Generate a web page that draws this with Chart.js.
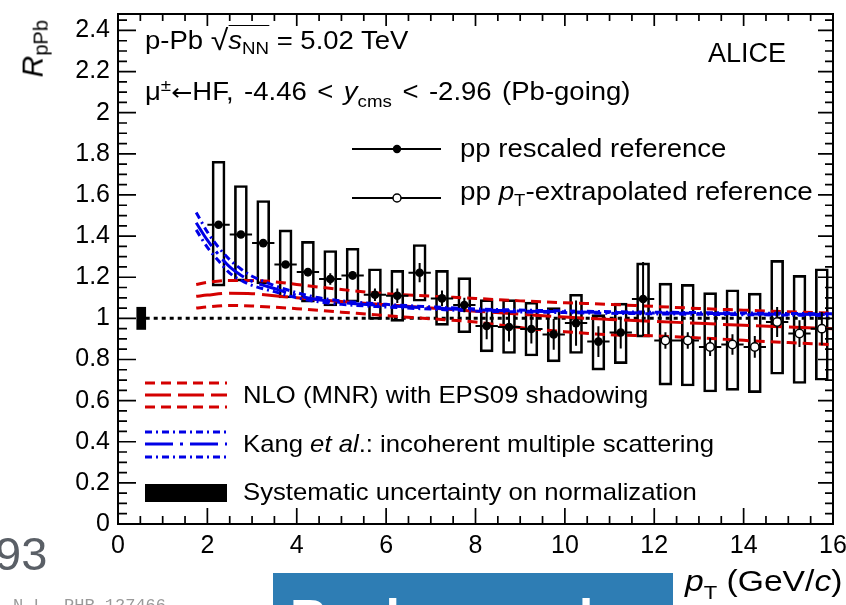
<!DOCTYPE html>
<html><head><meta charset="utf-8">
<script src="https://cdn.jsdelivr.net/npm/chart.js@4.4.1/dist/chart.umd.min.js"></script>
<style>
html,body{margin:0;padding:0;background:#fff;}
#wrap{position:relative;width:846px;height:605px;overflow:hidden;background:#fff;}
canvas{display:block;position:absolute;left:0;top:0;}
.t{position:absolute;line-height:0;height:0;white-space:nowrap;font-family:"Liberation Sans",Arial,sans-serif;color:#000;transform-origin:0 0;}
.sub{position:relative;}
</style>
</head><body><div id="wrap"><canvas id="c" width="846" height="605"></canvas></div>
<script>
// ---------------- data ----------------
const ptBins = [2.25,2.75,3.25,3.75,4.25,4.75,5.25,5.75,6.25,6.75,7.25,7.75,8.25,8.75,9.25,9.75,10.25,10.75,11.25,11.75,12.25,12.75,13.25,13.75,14.25,14.75,15.25,15.75];
const rpPb   = [1.455,1.408,1.366,1.262,1.225,1.191,1.209,1.115,1.110,1.222,1.097,1.065,0.963,0.958,0.948,0.922,0.977,0.887,0.931,1.094,0.892,0.892,0.861,0.873,0.861,0.982,0.926,0.950];
const statErr= [0.015,0.015,0.015,0.015,0.02,0.028,0.02,0.03,0.035,0.047,0.038,0.035,0.065,0.07,0.07,0.075,0.11,0.075,0.077,0.18,0.04,0.04,0.044,0.05,0.053,0.073,0.065,0.081];
const sysHi  = [1.764,1.646,1.573,1.430,1.374,1.330,1.341,1.241,1.233,1.359,1.233,1.198,1.091,1.091,1.079,1.052,1.117,1.018,1.074,1.270,1.171,1.165,1.125,1.139,1.123,1.282,1.209,1.241];
const sysLo  = [1.157,1.181,1.168,1.099,1.079,1.060,1.079,0.995,0.985,1.083,0.966,0.930,0.837,0.829,0.817,0.788,0.829,0.748,0.780,0.909,0.675,0.671,0.642,0.650,0.639,0.728,0.683,0.699];
const nFilled = 20;           // first 20 bins: pp rescaled reference; rest: pT-extrapolated
const binHalfWidth = 0.25;

const normPt = 0.52, normUnc = 0.054, unityFrom = 0.62, unityTo = 16;

const nloPt  = [1.75,2,2.5,3,3.5,4,5,6,7,8,9,10,11,12,13,14,15,16];
const nloUp  = [1.165,1.175,1.184,1.184,1.178,1.165,1.14,1.12,1.108,1.097,1.085,1.076,1.068,1.058,1.048,1.04,1.032,1.025];
const nloCen = [1.107,1.113,1.122,1.12,1.11,1.10,1.082,1.066,1.05,1.035,1.02,1.006,0.995,0.985,0.976,0.966,0.958,0.95];
const nloLo  = [1.05,1.056,1.063,1.06,1.054,1.047,1.03,1.013,0.998,0.982,0.955,0.935,0.92,0.915,0.905,0.893,0.882,0.872];

const kangPt  = [1.75,2.0,2.25,2.5,2.75,3.0,3.5,4,4.5,5,6,7,8,10,12,14,16];
const kangUp  = [1.515,1.42,1.345,1.285,1.24,1.205,1.16,1.125,1.10,1.085,1.068,1.056,1.046,1.036,1.03,1.026,1.022];
const kangCen = [1.465,1.38,1.31,1.25,1.21,1.18,1.145,1.112,1.09,1.077,1.062,1.05,1.041,1.032,1.026,1.022,1.018];
const kangLo  = [1.43,1.345,1.28,1.22,1.185,1.16,1.13,1.10,1.08,1.068,1.055,1.045,1.036,1.028,1.022,1.018,1.014];

const xTickLabels = ['0','2','4','6','8','10','12','14','16'];
const yTickLabels = ['0','0.2','0.4','0.6','0.8','1','1.2','1.4','1.6','1.8','2','2.2','2.4'];

// ---------------- styles ----------------
const FONT = '"Liberation Sans", Arial, sans-serif';
const RED = '#d40000', BLUE = '#0000e6';
const DASH_SHORT = [10,6], DASH_LONG = [26,7], DASH_DOT = [7,4,2,4], DASH_LONGDOT = [28,7,3,7];

const pts = (xs, ys) => xs.map((x,i)=>({x, y: ys[i]}));
const curve = (xs, ys, color, dash, order) => ({
  type:'line', data: pts(xs, ys), borderColor: color, borderWidth: 3, borderDash: dash,
  pointRadius: 0, fill: false, cubicInterpolationMode: 'monotone', order
});

const errSegs = [];
ptBins.forEach((x,i)=>{
  const y = rpPb[i];
  errSegs.push({x:x-binHalfWidth,y},{x:x+binHalfWidth,y},{x,y:null},
               {x,y:y-statErr[i]},{x,y:y+statErr[i]},{x,y:null});
});

const datasets = [
  { type:'bar', data: ptBins.map((x,i)=>({x, y:[sysLo[i], sysHi[i]]})), backgroundColor:'rgba(0,0,0,0)',
    borderColor:'#000', borderWidth:2, borderSkipped:false, barThickness:13, grouped:false, order:10 },
  { type:'bar', data:[{x:normPt, y:[1-normUnc, 1+normUnc]}], backgroundColor:'#000', borderWidth:0,
    barThickness:9, grouped:false, order:9 },
  { type:'line', data:[{x:unityFrom,y:1},{x:unityTo,y:1}], borderColor:'#000', borderWidth:3,
    borderDash:[4,4], pointRadius:0, fill:false, order:8 },
  curve(nloPt, nloUp, RED, DASH_SHORT, 7),
  curve(nloPt, nloLo, RED, DASH_SHORT, 7),
  curve(nloPt, nloCen, RED, DASH_LONG, 7),
  curve(kangPt, kangUp, BLUE, DASH_DOT, 6),
  curve(kangPt, kangLo, BLUE, DASH_DOT, 6),
  curve(kangPt, kangCen, BLUE, DASH_LONGDOT, 6),
  { type:'line', data: errSegs, borderColor:'#000', borderWidth:2, pointRadius:0, spanGaps:false, fill:false, tension:0, order:5 },
  { type:'line', data: pts(ptBins.slice(0,nFilled), rpPb.slice(0,nFilled)), showLine:false, pointRadius:4.3,
    pointBackgroundColor:'#000', pointBorderColor:'#000', pointBorderWidth:0, order:2 },
  { type:'line', data: pts(ptBins.slice(nFilled), rpPb.slice(nFilled)), showLine:false, pointRadius:4.2,
    pointBackgroundColor:'#fff', pointBorderColor:'#000', pointBorderWidth:1.5, order:1 }
];

// ---------------- frame, ROOT-style inner ticks, legend symbols ----------------
const rootFrame = {
  id:'rootFrame',
  afterDraw(chart){
    const {ctx, chartArea:a, scales:{x, y}} = chart;
    ctx.save();
    ctx.strokeStyle = '#000'; ctx.lineWidth = 2; ctx.setLineDash([]);
    ctx.strokeRect(a.left, a.top, a.right-a.left, a.bottom-a.top);
    ctx.lineWidth = 1.7; ctx.beginPath();
    for (let k=0; k<=32; k++){
      const v = k*0.5, px = x.getPixelForValue(v), major = (k%4===0);
      ctx.moveTo(px, a.bottom); ctx.lineTo(px, a.bottom-(major?16:8));
      ctx.moveTo(px, a.top); ctx.lineTo(px, a.top+(major?12:7));
    }
    for (let k=0; k*0.05<=2.48; k++){
      const py = y.getPixelForValue(k*0.05), major = (k%4===0);
      ctx.moveTo(a.left, py); ctx.lineTo(a.left+(major?18:9), py);
      ctx.moveTo(a.right, py); ctx.lineTo(a.right-(major?15:8), py);
    }
    ctx.stroke();

    // legend symbols
    const seg = (x1,x2,yy,color,w,dash)=>{ctx.beginPath();ctx.strokeStyle=color;ctx.lineWidth=w;ctx.setLineDash(dash);ctx.moveTo(x1,yy);ctx.lineTo(x2,yy);ctx.stroke();};
    seg(352,441,149,'#000',2,[]);
    seg(352,441,198,'#000',2,[]);
    ctx.setLineDash([]);
    ctx.beginPath(); ctx.arc(397,149,4.2,0,2*Math.PI); ctx.fillStyle='#000'; ctx.fill();
    ctx.beginPath(); ctx.arc(397,198,4,0,2*Math.PI); ctx.fillStyle='#fff'; ctx.fill(); ctx.lineWidth=1.5; ctx.strokeStyle='#000'; ctx.stroke();
    seg(145,227,383,RED,3,DASH_SHORT);
    seg(145,227,395,RED,3,DASH_LONG);
    seg(145,227,407,RED,3,DASH_SHORT);
    seg(145,227,432,BLUE,3,DASH_DOT);
    seg(145,227,444,BLUE,3,DASH_LONGDOT);
    seg(145,227,457,BLUE,3,DASH_DOT);
    ctx.setLineDash([]);
    ctx.fillStyle='#000'; ctx.fillRect(145,484,82,18);

    // slide decorations below the figure
    ctx.fillStyle='#2e7db4'; ctx.fillRect(273,573,400,40);
    ctx.restore();
  }
};

new Chart(document.getElementById('c'), {
  type:'bar',
  data:{ datasets },
  options:{
    responsive:false, animation:false, devicePixelRatio:1,
    layout:{ padding:{ top:14, right:13, left:0, bottom:0 } },
    plugins:{ legend:{display:false}, tooltip:{enabled:false} },
    scales:{
      x:{ type:'linear', min:0, max:16, offset:false,
          grid:{display:false, drawTicks:false}, border:{display:false},
          ticks:{ stepSize:2, autoSkip:false, maxRotation:0, padding:7, color:'#000',
                  font:{family:FONT, size:25}, callback:(v,i)=>xTickLabels[i] },
          afterFit:s=>{ s.height = 81; s.paddingLeft = 0; s.paddingRight = 0; } },
      y:{ type:'linear', min:0, max:2.48,
          grid:{display:false, drawTicks:false}, border:{display:false},
          ticks:{ stepSize:0.2, includeBounds:false, autoSkip:false, padding:8, color:'#000',
                  font:{family:FONT, size:25}, callback:(v,i)=>yTickLabels[i] },
          afterFit:s=>{ s.width = 118; s.paddingTop = 0; s.paddingBottom = 0; } }
    }
  },
  plugins:[rootFrame]
});

// ---------------- text (real HTML text) ----------------
const wrap = document.getElementById('wrap');
function addText(html, x, baseline, size, sx, extra){
  const d = document.createElement('div');
  d.className = 't';
  d.style.left = x+'px';
  d.style.top = (baseline - 0.3465*size)+'px';
  d.style.fontSize = size+'px';
  d.style.transform = 'scaleX('+(sx||1)+')';
  if (extra) Object.assign(d.style, extra);
  d.innerHTML = html;
  wrap.appendChild(d);
  return d;
}
const sub = (t,size,dy)=>`<span class="sub" style="font-size:${size}px;top:${dy}px">${t}</span>`;

addText(`p-Pb <span style="font-size:29px;position:relative;top:1px">√</span><span style="border-top:1.4px solid #000">${'<i>s</i>'}${sub('NN',17,5)}</span> = 5.02 TeV`, 145, 48, 25, 1.1);
addText(`μ<span style="font-size:17px;position:relative;top:-9px">±</span><span style="font-family:'DejaVu Sans';font-size:23px">←</span>HF, -4.46 &lt; <i>y</i>${sub('cms',17,7)} &lt; -2.96 (Pb-going)`, 145, 100, 25, 1.1, {wordSpacing:'2.6px'});
addText('ALICE', 708, 62, 27, 1);
addText('pp rescaled reference', 460, 157, 25.5, 1.08);
addText(`pp <i>p</i>${sub('T',17,6)}-extrapolated reference`, 460, 200, 25.5, 1.09);
addText('NLO (MNR) with EPS09 shadowing', 243, 403, 24, 1.07);
addText('Kang <i>et al</i>.: incoherent multiple scattering', 243, 452, 24, 1.07);
addText('Systematic uncertainty on normalization', 243, 500, 24, 1.07);
addText(`<i>p</i>${sub('T',19,8)} (GeV/<i>c</i>)`, 685, 591, 29, 1.16);
// y axis title, rotated
addText(`<i>R</i>${sub('pPb',20,5)}`, 43, 77, 30, 1, {transformOrigin:`0 ${0.3465*30}px`, transform:'rotate(-90deg)'});
// slide remnants around the figure
addText('93', -5, 570, 47, 1, {color:'#5a5f66'});
addText('N.L. PHR 127466', 13, 612, 17, 1, {color:'#9a9a9a', fontFamily:'"Liberation Mono", monospace'});
addText('Background', 290, 636, 52, 1, {color:'#fff', fontWeight:'bold'});
</script>
</body></html>
